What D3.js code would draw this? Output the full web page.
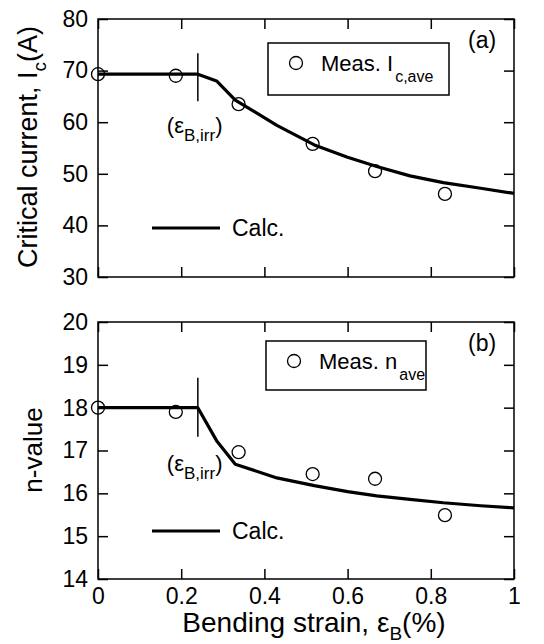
<!DOCTYPE html>
<html>
<head>
<meta charset="utf-8">
<script src="https://cdn.jsdelivr.net/npm/d3@7"></script>
<style>
  body { margin: 0; background: #fff; }
  svg { display: block; font-family: "Liberation Sans", Arial, sans-serif; }
  .tick text { font-size: 23px; fill: #000; }
  .tick line { stroke: #000; stroke-width: 1.5; }
</style>
</head>
<body>
<div id="chart"></div>
<script>
var width = 544,
    height = 644,
    left = 98,
    right = 514;

// measured points
var strain = [0, 0.187, 0.338, 0.516, 0.666, 0.834];
var icMeas = [69.3, 69.0, 63.5, 55.8, 50.5, 46.1];
var nMeas = [18.0, 17.9, 16.96, 16.45, 16.34, 15.49];

// calculated curves
var calcStrain = [0, 0.24, 0.285, 0.33, 0.43, 0.52, 0.6, 0.67, 0.75, 0.83, 0.92, 1.0];
var icCalc = [69.3, 69.3, 68.0, 64.3, 59.4, 55.6, 53.2, 51.4, 49.6, 48.3, 47.2, 46.2];
var nCalc = [18.0, 18.0, 17.23, 16.68, 16.36, 16.18, 16.04, 15.94, 15.86, 15.78, 15.71, 15.66];

var epsIrr = 0.24;
var xTicks = [0, 0.2, 0.4, 0.6, 0.8, 1];
var icTicks = [30, 40, 50, 60, 70, 80];
var nTicks = [14, 15, 16, 17, 18, 19, 20];

var x = d3.scaleLinear().domain([0, 1]).range([left, right]);

var svg = d3.select("#chart").append("svg")
  .attr("width", width)
  .attr("height", height);

function panel(opt) {
  var y = d3.scaleLinear().domain(opt.domain).range([opt.bottom, opt.top]);
  var g = svg.append("g");

  g.append("g")
    .attr("transform", "translate(" + left + ",0)")
    .call(d3.axisLeft(y).tickValues(opt.ticks).tickSize(-10).tickPadding(10).tickFormat(d3.format("d")));
  g.append("g")
    .attr("transform", "translate(" + right + ",0)")
    .call(d3.axisRight(y).tickValues(opt.ticks).tickSize(-10).tickFormat(""));
  g.append("g")
    .attr("transform", "translate(0," + opt.top + ")")
    .call(d3.axisTop(x).tickValues(xTicks).tickSize(-10).tickFormat(""));
  g.append("g")
    .attr("transform", "translate(0," + opt.bottom + ")")
    .call(d3.axisBottom(x).tickValues(xTicks).tickSize(-10).tickPadding(9)
      .tickFormat(opt.xLabels ? function(d) { return String(d); } : ""));
  g.selectAll(".domain").remove();

  g.append("rect")
    .attr("x", left).attr("y", opt.top)
    .attr("width", right - left).attr("height", opt.bottom - opt.top)
    .attr("fill", "none").attr("stroke", "#000").attr("stroke-width", 1.5);

  var line = d3.line()
    .x(function(d, i) { return x(calcStrain[i]); })
    .y(function(d) { return y(d); });

  g.append("path")
    .attr("d", line(opt.calc))
    .attr("fill", "none").attr("stroke", "#000").attr("stroke-width", 3.2)
    .attr("stroke-linejoin", "round");

  g.selectAll(".pt").data(opt.meas).enter().append("circle")
    .attr("cx", function(d, i) { return x(strain[i]); })
    .attr("cy", function(d) { return y(d); })
    .attr("r", 6.5)
    .attr("fill", "none").attr("stroke", "#000").attr("stroke-width", 1.3);

  // irreversible strain marker
  g.append("line")
    .attr("x1", x(epsIrr)).attr("x2", x(epsIrr))
    .attr("y1", y(opt.calc[1]) - opt.markUp).attr("y2", y(opt.calc[1]) + opt.markDown)
    .attr("stroke", "#000").attr("stroke-width", 1.5);

  var lab = g.append("text")
    .attr("x", x(epsIrr) - 31).attr("y", y(opt.calc[1]) + opt.labDy)
    .attr("font-size", 22);
  lab.append("tspan").text("(ε");
  lab.append("tspan").attr("dy", 8).attr("font-size", 17).text("B,irr");
  lab.append("tspan").attr("dy", -8).text(")");

  // legend box
  var lb = opt.legend;
  g.append("rect")
    .attr("x", lb.x).attr("y", opt.top + lb.y)
    .attr("width", lb.w).attr("height", lb.h)
    .attr("fill", "#fff").attr("stroke", "#000").attr("stroke-width", 1.5);
  g.append("circle")
    .attr("cx", lb.x + 28).attr("cy", opt.top + lb.y + 20)
    .attr("r", 6.5)
    .attr("fill", "none").attr("stroke", "#000").attr("stroke-width", 1.3);
  var lt = g.append("text")
    .attr("x", lb.x + 53).attr("y", opt.top + lb.y + 28)
    .attr("font-size", 22);
  lt.append("tspan").text(opt.legendText);
  lt.append("tspan").attr("dx", 2).attr("dy", 11).attr("font-size", 16).text(opt.legendSub);

  g.append("text")
    .attr("x", 468).attr("y", opt.top + 29)
    .attr("font-size", 23)
    .text(opt.tag);

  // calc legend
  g.append("line")
    .attr("x1", 152).attr("x2", 220)
    .attr("y1", opt.top + opt.calcY).attr("y2", opt.top + opt.calcY)
    .attr("stroke", "#000").attr("stroke-width", 3.2);
  g.append("text")
    .attr("x", 232).attr("y", opt.top + opt.calcY + 8)
    .attr("font-size", 23)
    .text("Calc.");

  return y;
}

panel({
  domain: [30, 80], ticks: icTicks, top: 19, bottom: 277,
  calc: icCalc, meas: icMeas, xLabels: false,
  markUp: 21, markDown: 27, labDy: 59,
  legend: {x: 268, y: 24, w: 181, h: 52},
  legendText: "Meas. I", legendSub: "c,ave",
  tag: "(a)", calcY: 209
});

panel({
  domain: [14, 20], ticks: nTicks, top: 322, bottom: 579,
  calc: nCalc, meas: nMeas, xLabels: true,
  markUp: 30, markDown: 29, labDy: 63,
  legend: {x: 266, y: 19, w: 160, h: 49},
  legendText: "Meas. n", legendSub: "ave",
  tag: "(b)", calcY: 209
});

// axis titles
var t1 = svg.append("text")
  .attr("transform", "translate(37,147) rotate(-90)")
  .attr("text-anchor", "middle")
  .attr("font-size", 27);
t1.append("tspan").text("Critical current, I");
t1.append("tspan").attr("dy", 9).attr("font-size", 19).text("c");
t1.append("tspan").attr("dy", -9).text("(A)");

svg.append("text")
  .attr("transform", "translate(42,450) rotate(-90)")
  .attr("text-anchor", "middle")
  .attr("font-size", 26)
  .text("n-value");

var t3 = svg.append("text")
  .attr("x", 314).attr("y", 632)
  .attr("text-anchor", "middle")
  .attr("font-size", 28);
t3.append("tspan").text("Bending strain, ε");
t3.append("tspan").attr("dy", 8).attr("font-size", 19).text("B");
t3.append("tspan").attr("dy", -8).text("(%)");
</script>
</body>
</html>
